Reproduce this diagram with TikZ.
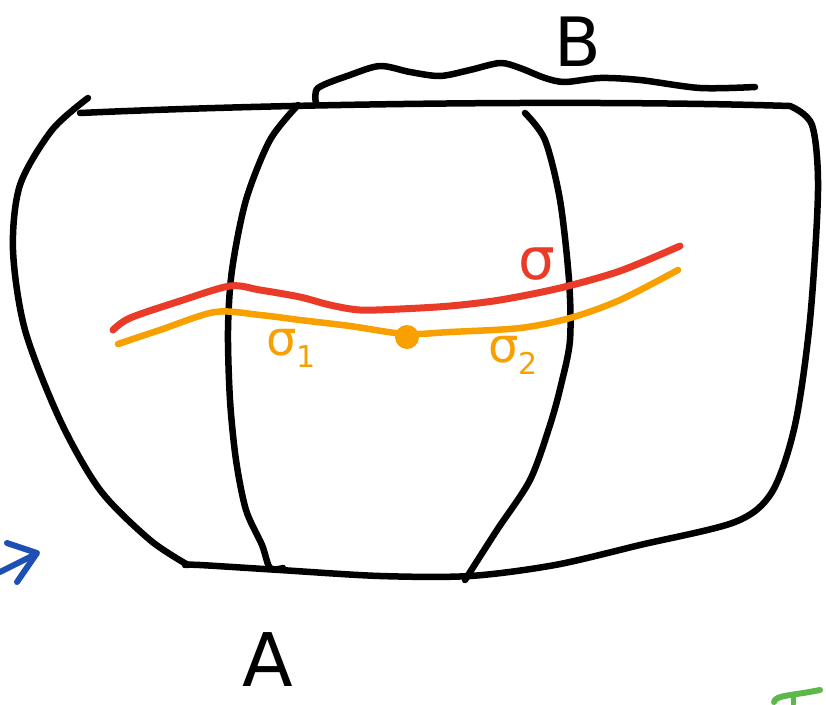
\documentclass[tikz,border=0pt]{standalone}
\usepackage{fontspec}
\setsansfont{DejaVu Sans}
\begin{document}
\begin{tikzpicture}[x=1pt,y=-1pt,
  pen/.style={line width=6.5pt,line cap=round,line join=round},
  ink/.style={pen,black},
  redink/.style={pen,color=sigred,line width=7pt},
  orink/.style={pen,color=sigorange,line width=6.5pt},
  lbl/.style={inner sep=0pt}]
\definecolor{sigred}{HTML}{EA3A28}
\definecolor{sigorange}{HTML}{F7A000}
\definecolor{penblue}{HTML}{1D4FB5}
\definecolor{pengreen}{HTML}{5BB94A}
\useasboundingbox (0,0) rectangle (826,704);
% top edge
\draw[ink] (80,113) .. controls (300,103) and (600,100) .. (790,106)
  plot[smooth] coordinates {(790,106) (812,125) (818,190) (810,320) (795,425) (772,492) (735,522) (640,545) (555,565) (470,576) (380,576) (280,570) (200,565) (185,565)};
% left side
\draw[ink] plot[smooth] coordinates {(88,98) (52,130) (20,185) (13,250) (25,330) (60,420) (100,490) (150,540) (188,565)};
% vertical curves
\draw[ink] plot[smooth] coordinates {(298,105) (270,140) (246,200) (232,270) (228,330) (230,400) (236,460) (246,510) (262,545) (270,568) (283,568)};
\draw[ink] plot[smooth] coordinates {(525,113) (545,140) (560,200) (569,280) (570,340) (561,385) (550,425) (530,480) (497,530) (465,580)};
% top bump B
\draw[ink] plot[smooth] coordinates {(316,103) (318,88) (350,75) (380,66) (410,72) (440,76) (470,70) (500,63) (520,68) (545,78) (565,82) (600,78) (640,80) (700,88) (755,87)};
% sigma curves
\draw[redink] plot[smooth] coordinates {(113,330) (130,318) (180,301) (230,286) (260,290) (300,297) (330,305) (360,310) (400,309) (450,306) (500,300) (560,288) (620,271) (680,246)};
\draw[orink] plot[smooth] coordinates {(118,344) (160,330) (215,312) (260,315) (300,320) (350,326) (405,334) (450,332) (520,328) (570,318) (620,300) (678,270)};
\fill[sigorange] (407,337) circle (12);
% labels
\node[lbl,text=sigred,font=\sffamily\fontsize{58}{58}\selectfont] (s) at (537,264) {σ};
\node[lbl,text=sigorange,font=\sffamily\fontsize{48}{48}\selectfont,anchor=west] (s1) at (266,348) {σ\raisebox{-12pt}{\fontsize{30}{30}\selectfont 1}};
\node[lbl,text=sigorange,font=\sffamily\fontsize{48}{48}\selectfont,anchor=west] (s2) at (488,355) {σ\raisebox{-12pt}{\fontsize{30}{30}\selectfont 2}};
\node[lbl,font=\sffamily\fontsize{68}{68}\selectfont] (B) at (578,42) {B};
\node[lbl,font=\sffamily\fontsize{74}{74}\selectfont] (A) at (268,660) {A};
% blue partial arrow at left edge
\draw[pen,penblue,line width=6pt] (0,572) -- (36,554);
\draw[pen,penblue,line width=6pt] (7,543) -- (37,553) -- (17,582);
% green partial mark at bottom right
\draw[pen,pengreen,line width=6pt] (774,702) .. controls (776,695) and (790,696) .. (820,690);
\draw[pen,pengreen,line width=5pt] (793,697) -- (793,704);
\end{tikzpicture}
\end{document}
